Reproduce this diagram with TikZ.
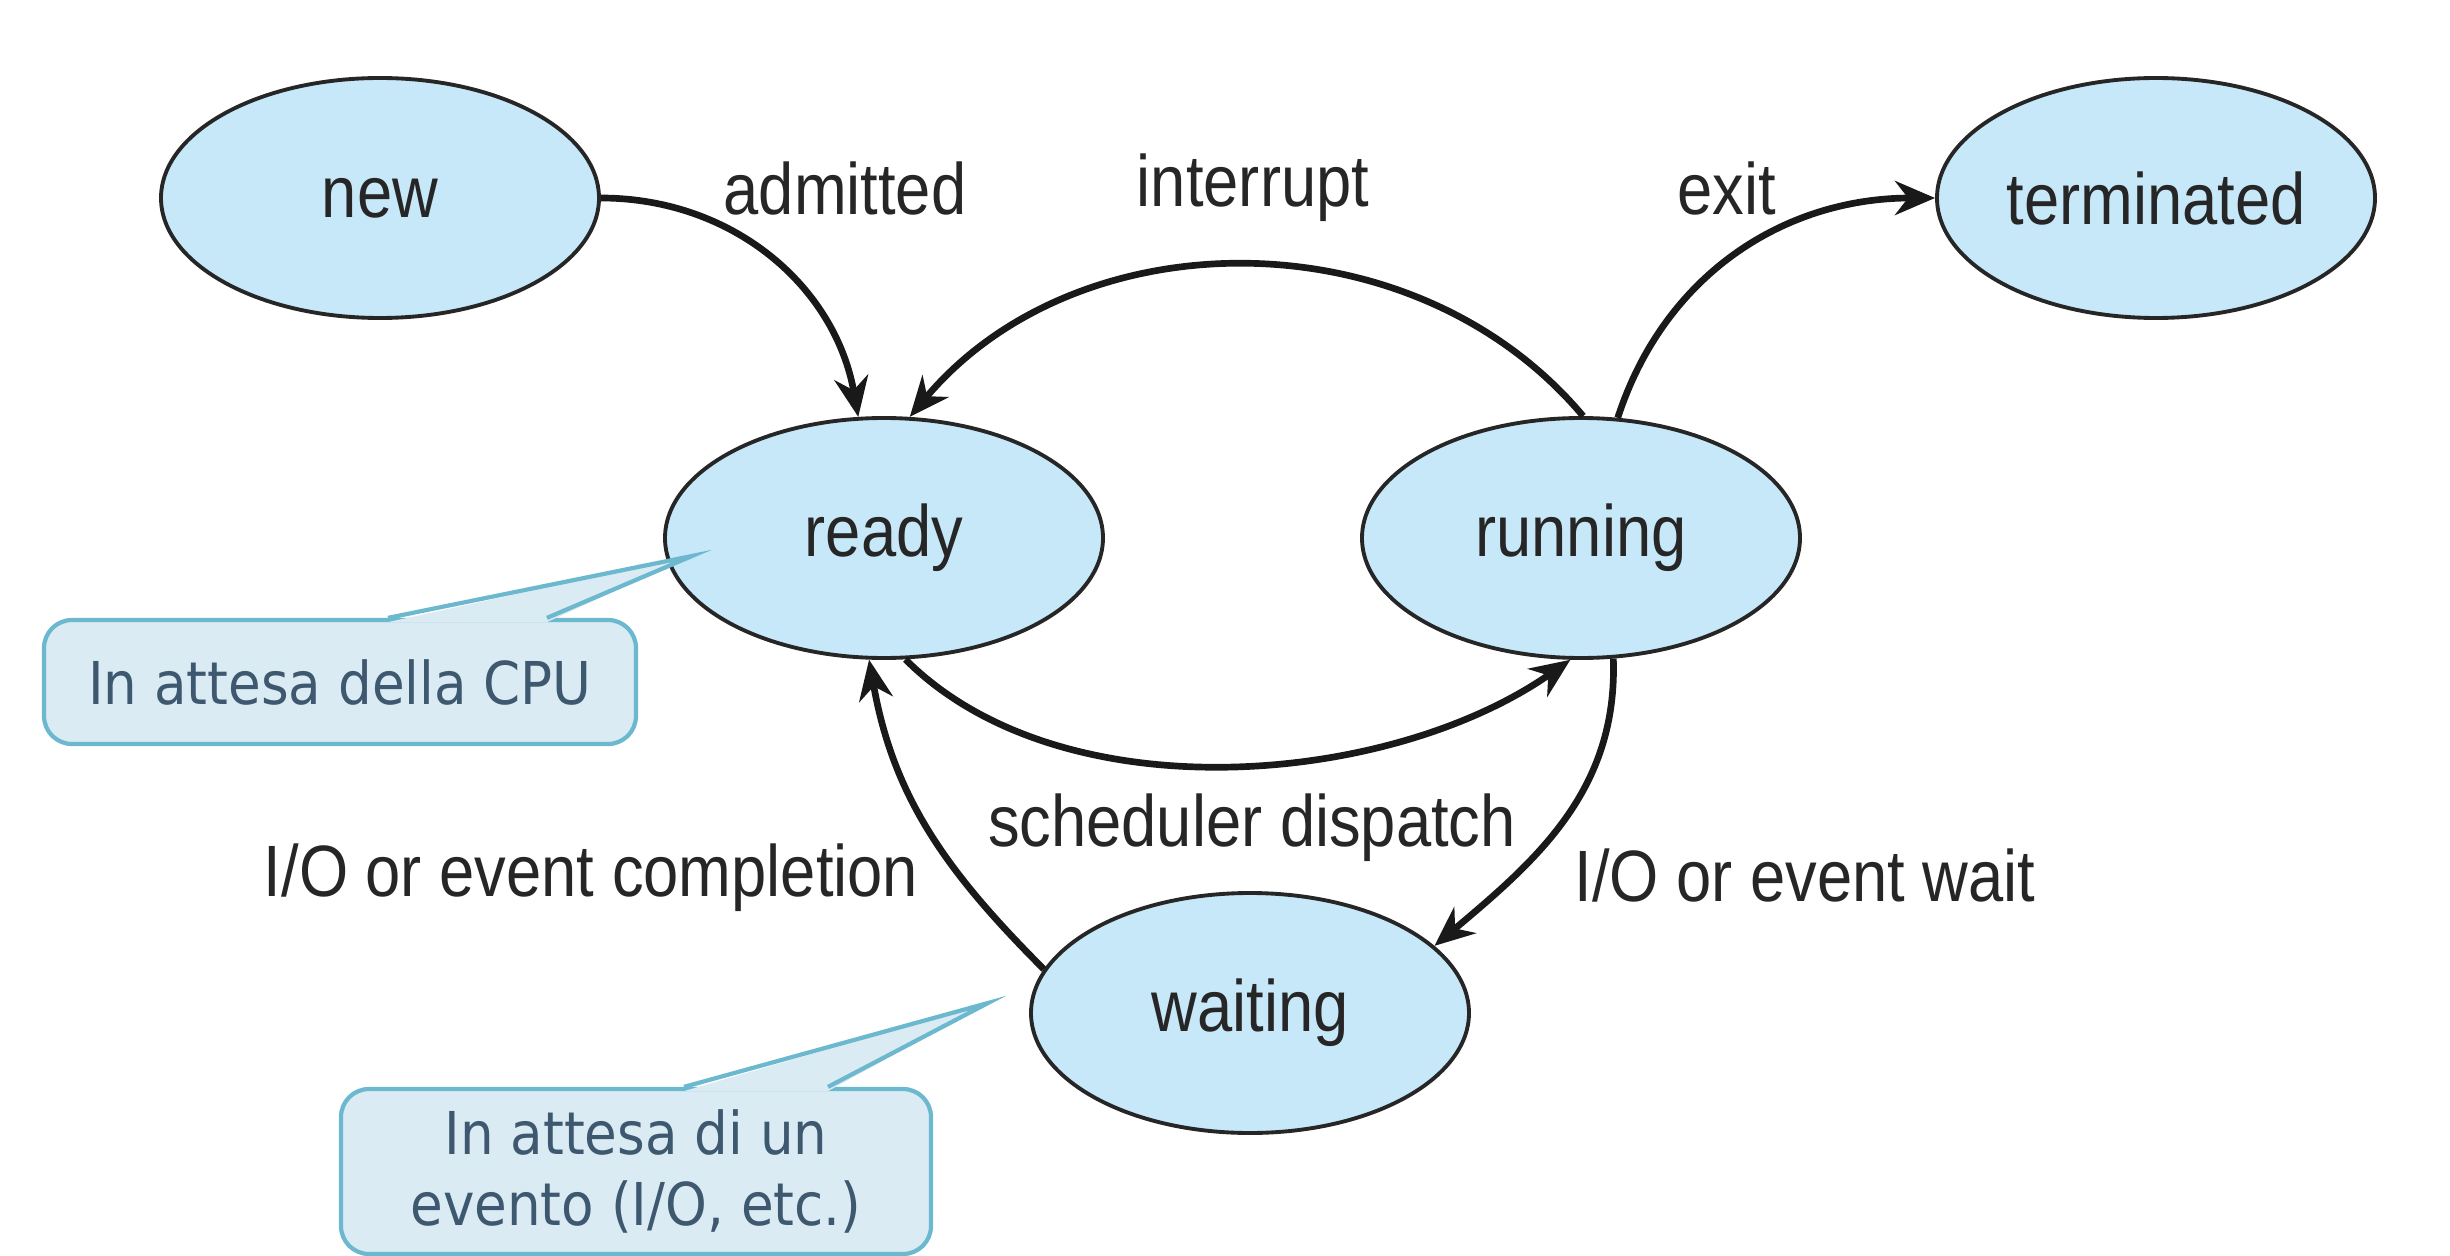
\documentclass[tikz,border=0pt]{standalone}
\usepackage{fontspec}
\setmainfont{Liberation Sans}
\newfontfamily\labelfont[FakeStretch=0.87]{Liberation Sans}
\newfontfamily\notefont[FakeStretch=0.9]{DejaVu Sans}
\usepackage{xcolor}
\usepackage{tikz}
\usetikzlibrary{arrows.meta,positioning,shapes.geometric,calc}
\definecolor{stateblue}{RGB}{199,232,249}
\definecolor{callfill}{RGB}{218,235,243}
\definecolor{callline}{RGB}{108,184,206}
\definecolor{calltext}{RGB}{62,88,112}

\begin{document}
\begin{tikzpicture}[
  state/.style={ellipse, draw=black!85, line width=1.1pt, fill=stateblue, minimum width=4.38cm, minimum height=2.4cm, inner sep=0pt, font=\labelfont\fontsize{20.7}{24}\selectfont, text=black!85},
  lbl/.style={font=\labelfont\fontsize{20.7}{24}\selectfont, text=black!85, inner sep=0pt},
  note/.style={draw=callline, line width=1.2pt, fill=callfill, rounded corners=0.28cm, align=center, font=\notefont\fontsize{16.8}{20}\selectfont, text=calltext, inner sep=0pt},
  arrow/.style={-{Stealth[length=4mm,width=3.4mm]}, line width=1.9pt, black!90}
]
\useasboundingbox (0,0) rectangle (24.5,-12.56);
\node[state] (new) at (3.80,-1.98) {new};
\node[state] (terminated) at (21.56,-1.98) {terminated};
\node[state] (ready) at (8.84,-5.38) {ready};
\node[state] (running) at (15.81,-5.38) {running};
\node[state] (waiting) at (12.50,-10.13) {waiting};
\node[lbl] (admitted) at (8.45,-1.88) {admitted};
\node[lbl] (interrupt) at (12.53,-1.88) {interrupt};
\node[lbl] (exit) at (17.27,-1.88) {exit};
\node[lbl] (dispatch) at (12.52,-8.28) {scheduler dispatch};
\node[lbl] (completion) at (5.91,-8.78) {I/O or event completion};
\node[lbl] (wait) at (18.05,-8.75) {I/O or event wait};
\draw[arrow] (new.east) to[out=0,in=100] (ready.102);
\draw[arrow] (running.89) to[out=130,in=50] (ready.78);
\draw[arrow] (running.73) to[out=72,in=180] (terminated.west);
\draw[arrow] (ready.-80) to[out=-45,in=-145,looseness=0.85] (running.-95);
\draw[arrow] (running.-75) to[out=-88,in=40] (waiting.20);
\draw[arrow] (waiting.168) to[out=135,in=-80] (ready.-97);
\node[note, minimum width=5.92cm, minimum height=1.24cm] (noteA) at (3.40,-6.82) {In attesa della CPU};
\coordinate (tipA) at (6.92,-5.56);
\fill[callfill] ([xshift=0.48cm,yshift=-1.2pt]noteA.north) -- (tipA) -- ([xshift=2.07cm,yshift=-1.2pt]noteA.north) -- cycle;
\draw[callline, line width=1.2pt] ([xshift=0.48cm]noteA.north) -- (tipA) -- ([xshift=2.07cm]noteA.north);
\node[note, minimum width=5.90cm, minimum height=1.65cm] (noteB) at (6.36,-11.715) {In attesa di un\\evento (I/O, etc.)};
\coordinate (tipB) at (9.88,-10.03);
\fill[callfill] ([xshift=0.48cm,yshift=-1.2pt]noteB.north) -- (tipB) -- ([xshift=1.92cm,yshift=-1.2pt]noteB.north) -- cycle;
\draw[callline, line width=1.2pt] ([xshift=0.48cm]noteB.north) -- (tipB) -- ([xshift=1.92cm]noteB.north);
\end{tikzpicture}
\end{document}
